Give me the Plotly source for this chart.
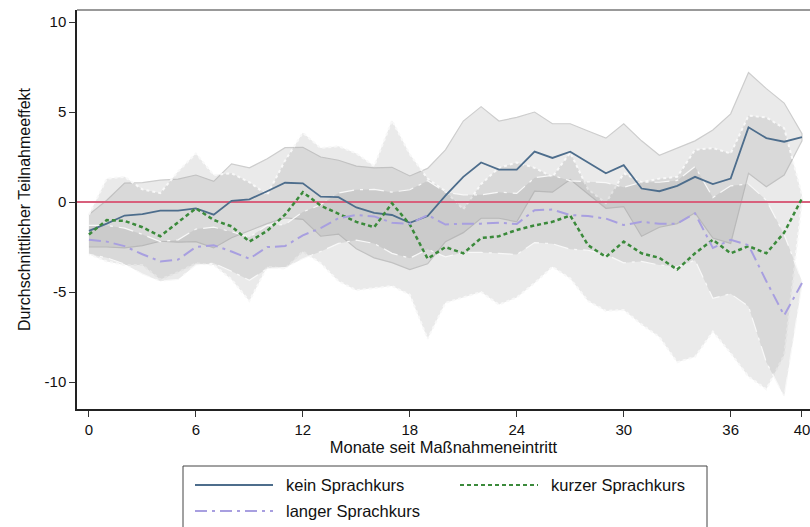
import plotly.graph_objects as go

# Months since programme entry
months = list(range(41))

# Average participation effect per group
kein = [-1.6, -1.2, -0.75, -0.67, -0.48, -0.48, -0.35, -0.7, 0.07, 0.15, 0.6,
        1.07, 1.04, 0.3, 0.27, -0.3, -0.6, -0.72, -1.15, -0.78, 0.35,
        1.4, 2.2, 1.8, 1.8, 2.8, 2.45, 2.8, 2.2, 1.6, 2.05,
        0.75, 0.6, 0.9, 1.4, 1.0, 1.3, 4.15, 3.55, 3.35, 3.6]
kurz = [-1.8, -1.0, -1.05, -1.4, -1.9, -1.1, -0.35, -1.0, -1.35, -2.2, -1.6,
        -0.7, 0.55, -0.2, -0.65, -1.1, -1.4, -0.07, -1.25, -3.15, -2.5,
        -2.85, -2.0, -1.9, -1.55, -1.3, -1.1, -0.75, -2.4, -3.05, -2.2,
        -2.85, -3.1, -3.75, -2.85, -2.1, -2.85, -2.45, -2.85, -1.7, 0.2]
lang = [-2.1, -2.2, -2.45, -2.9, -3.3, -3.2, -2.5, -2.4, -2.75, -3.15, -2.5,
        -2.45, -1.85, -1.45, -0.9, -0.72, -0.8, -1.15, -1.22, -0.72, -1.25,
        -1.2, -1.2, -1.15, -1.22, -0.45, -0.42, -0.72, -0.78, -0.92, -1.28,
        -1.1, -1.2, -1.2, -0.63, -2.55, -2.1, -2.4, -4.4, -6.3, -4.5]

# Confidence bands (lower / upper)
kein_lo = [-2.5, -2.5, -2.55, -2.42, -2.18, -2.23, -2.2, -2.55, -1.98, -1.6, -1.2,
           -0.88, -0.96, -1.9, -1.78, -2.6, -3.1, -3.37, -3.75, -3.43, -2.2,
           -1.7, -0.9, -0.9, -1.1, 0.6, 0.55, 1.25, 0.45, -0.35, -0.25,
           -1.9, -1.4, -1.2, -0.6, -2.0, -2.3, 1.6, 0.85, 1.5, 3.4]
kein_hi = [-0.7, 0.1, 1.05, 1.08, 1.22, 1.27, 1.5, 1.15, 2.12, 1.9, 2.4,
           3.02, 3.04, 2.5, 2.32, 2.0, 1.9, 1.93, 1.45, 1.87, 2.9,
           4.5, 5.3, 4.5, 4.7, 5.0, 4.35, 4.35, 3.95, 3.55, 4.35,
           3.4, 2.6, 3.0, 3.4, 4.0, 4.9, 7.2, 6.3, 5.5, 3.8]
kurz_lo = [-2.9, -3.3, -3.5, -3.5, -4.3, -3.9, -3.4, -3.5, -4.3, -5.5, -3.6,
           -3.7, -2.75, -3.4, -4.4, -4.9, -4.8, -4.67, -5.15, -7.6, -5.6,
           -5.3, -5.0, -5.7, -5.3, -4.5, -3.6, -4.25, -5.5, -6.05, -6.0,
           -6.8, -7.5, -8.9, -8.6, -7.2, -8.4, -9.7, -10.4, -8.5, 0.0]
kurz_hi = [-0.7, 1.3, 1.4, 0.7, 0.5, 1.7, 2.7, 1.5, 1.6, 1.1, 0.4,
           2.3, 3.85, 3.0, 3.1, 2.7, 2.0, 4.53, 2.65, 1.3, 0.6,
           -0.4, 1.0, 1.9, 2.2, 1.9, 1.4, 2.75, 0.7, -0.05, 1.6,
           1.1, 1.3, 1.4, 2.9, 3.0, 2.7, 4.8, 4.7, 4.1, 0.4]
lang_lo = [-2.9, -3.1, -3.45, -4.0, -4.4, -4.3, -3.5, -3.4, -3.85, -4.35, -3.7,
           -3.65, -3.15, -2.75, -2.3, -2.12, -2.3, -2.85, -3.12, -2.62, -3.05,
           -2.8, -2.8, -2.85, -2.92, -2.25, -2.32, -2.62, -2.68, -2.92, -3.38,
           -3.3, -3.5, -3.6, -3.23, -5.35, -5.1, -5.8, -8.9, -10.8, -4.6]
lang_hi = [-1.3, -1.3, -1.45, -1.8, -2.2, -2.1, -1.5, -1.4, -1.65, -1.95, -1.3,
           -1.25, -0.55, -0.15, 0.5, 0.68, 0.7, 0.55, 0.68, 1.18, 0.55,
           0.4, 0.4, 0.55, 0.48, 1.35, 1.48, 1.18, 1.12, 1.08, 0.82,
           1.1, 1.1, 1.2, 1.97, 0.25, 0.9, 1.0, 0.1, -1.8, -4.4]

x_ticks = [0, 6, 12, 18, 24, 30, 36, 40]
y_ticks = [-10, -5, 0, 5, 10]
y_ticktext = ["-10", "-5", "0", "5", "10"]
x_range = [-0.67, 40.45]
y_range = [-11.5, 10.67]

labels = ["kein Sprachkurs", "kurzer Sprachkurs", "langer Sprachkurs"]
FONT = "Liberation Sans, Arial, sans-serif"
band_fill = "rgba(150,150,150,0.2)"

fig = go.Figure()


def band(lo, hi, edge_color, edge_dash, edge_width):
    fig.add_trace(go.Scatter(
        x=months + months[::-1], y=hi + lo[::-1],
        fill="toself", fillcolor=band_fill, mode="lines",
        line=dict(color=edge_color, dash=edge_dash, width=edge_width),
        hoverinfo="skip", showlegend=False))


band(kein_lo, kein_hi, "rgb(205,205,205)", "solid", 1.2)
band(kurz_lo, kurz_hi, "rgb(248,248,248)", "dot", 2)
band(lang_lo, lang_hi, "rgb(248,248,248)", "longdashdot", 1.2)

# zero reference line
fig.add_trace(go.Scatter(x=x_range, y=[0, 0], mode="lines",
                         line=dict(color="#d8607c", width=2),
                         hoverinfo="skip", showlegend=False))

blue = "#4d6d8c"
green = "#3b8a3b"
lav = "#a89fe0"
styles = [(kein, blue, "solid", 1.8), (kurz, green, "4px,3px", 2.5),
          (lang, lav, "12px,5px,3px,5px", 2)]
for (vals, col, dash, w), name in zip(styles, labels):
    fig.add_trace(go.Scatter(x=months, y=vals, mode="lines", name=name,
                             line=dict(color=col, dash=dash, width=w),
                             showlegend=False))

W, H = 810, 527
L, R, T, B = 77, 0, 10, 118
pw, ph = W - L - R, H - T - B


def px(xp):
    return (xp - L) / pw


def py(yp):
    return (H - B - yp) / ph


# legend box with line samples
fig.add_shape(type="rect", xref="paper", yref="paper",
              x0=px(183), x1=px(707), y0=py(466), y1=py(540),
              line=dict(color="#444", width=1), fillcolor="white")
legend_rows = [(labels[0], blue, "solid", 2, 195, 485),
               (labels[1], green, "4px,3px", 2, 460, 485),
               (labels[2], lav, "12px,5px,3px,5px", 2, 195, 511)]
for name, col, dash, w, x0, y0 in legend_rows:
    fig.add_shape(type="line", xref="paper", yref="paper",
                  x0=px(x0), x1=px(x0 + 78), y0=py(y0), y1=py(y0),
                  line=dict(color=col, dash=dash, width=w))
    fig.add_annotation(xref="paper", yref="paper", x=px(x0 + 89), y=py(y0),
                       text=name, showarrow=False, xanchor="left",
                       yanchor="middle", font=dict(size=16.5, color="#111", family=FONT))

# top frame line
fig.add_shape(type="line", xref="paper", yref="paper", x0=0, x1=1, y0=1, y1=1,
              line=dict(color="#999", width=2))

fig.update_layout(
    width=W, height=H,
    margin=dict(l=L, r=R, t=T, b=B),
    paper_bgcolor="white", plot_bgcolor="white",
    font=dict(family=FONT, size=15, color="#111"),
    xaxis=dict(range=x_range, tickvals=x_ticks, ticks="outside", ticklen=6,
               tickcolor="#333", showline=True, linecolor="#222", linewidth=1.5,
               showgrid=False, zeroline=False, tickfont=dict(size=15),
               ticklabeloverflow="allow",
               title=dict(text="Monate seit Maßnahmeneintritt", standoff=0,
                          font=dict(size=16.5))),
    yaxis=dict(range=y_range, tickvals=y_ticks, ticktext=y_ticktext,
               ticks="outside", ticklen=6,
               tickcolor="#333", showline=True, linecolor="#222", linewidth=1.5,
               showgrid=False, zeroline=False, tickfont=dict(size=15),
               title=dict(text="Durchschnittlicher Teilnahmeeffekt", standoff=10,
                          font=dict(size=16))),
)

fig.write_html("out.html")
